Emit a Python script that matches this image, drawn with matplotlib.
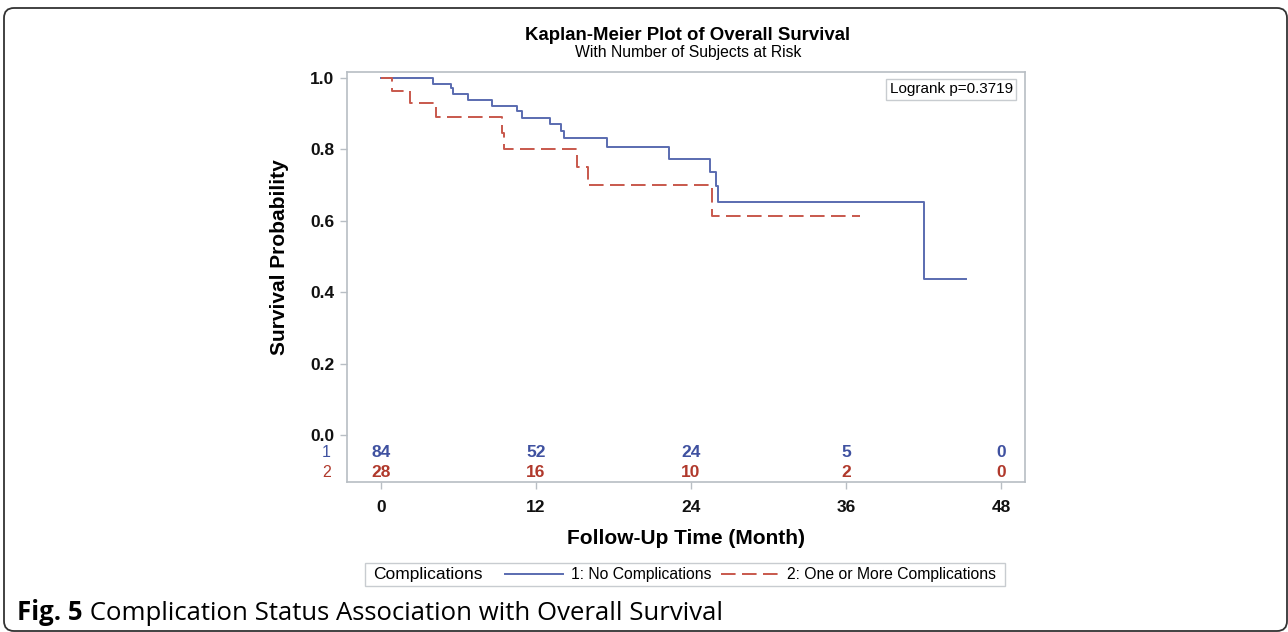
#!/usr/bin/env python3
"""
Kaplan-Meier overall survival plot by complication status, with number at risk.
"""

import matplotlib
matplotlib.use('Agg')
import matplotlib.pyplot as plt
from matplotlib.patches import FancyBboxPatch, Rectangle
from matplotlib.transforms import IdentityTransform

# --- data ---
grp1_times = [0, 4.05, 5.45, 5.6, 6.76, 8.57, 10.56, 10.9, 13.1, 13.9, 14.16,
              17.47, 22.3, 25.5, 25.9, 26.1, 42.0, 45.3]
grp1_surv = [1.0, 0.983, 0.971, 0.955, 0.938, 0.922, 0.907, 0.889, 0.871,
             0.852, 0.833, 0.807, 0.774, 0.737, 0.697, 0.654, 0.438, 0.438]

grp2_times = [0, 0.83, 2.25, 4.23, 9.4, 9.55, 15.2, 16.05, 25.6, 37.1]
grp2_surv = [1.0, 0.964, 0.929, 0.890, 0.845, 0.800, 0.750, 0.700, 0.614,
             0.614]

risk_times = [0, 12, 24, 36, 48]
grp1_risk = [84, 52, 24, 5, 0]
grp2_risk = [28, 16, 10, 2, 0]

group_labels = ['1: No Complications', '2: One or More Complications']
x_ticks = [0, 12, 24, 36, 48]
y_ticks = [0.0, 0.2, 0.4, 0.6, 0.8, 1.0]
logrank_text = 'Logrank p=0.3719'

# --- style ---
plt.rcParams['font.family'] = ['Liberation Sans', 'DejaVu Sans']
BLUE_LINE = '#5a6bb0'
RED_LINE = '#c8584c'
BLUE_TXT = '#3f51a0'
RED_TXT = '#b0392c'
FRAME = '#b8bec4'

W, H = 1288, 632
fig = plt.figure(figsize=(W / 100, H / 100), dpi=100)

# outer rounded frame of the figure panel
fig.patches.append(FancyBboxPatch((4, H - 631), 1283, 623,
                                  boxstyle='round,pad=0,rounding_size=10',
                                  transform=IdentityTransform(),
                                  fill=False, ec='#333333', lw=1.3))

left, right, top, bottom = 347, 1025, 72, 482
ax = fig.add_axes([left / W, 1 - bottom / H, (right - left) / W,
                   (bottom - top) / H])

line1, = ax.step(grp1_times, grp1_surv, where='post', color=BLUE_LINE,
                 lw=1.4, label=group_labels[0])
line2, = ax.step(grp2_times, grp2_surv, where='post', color=RED_LINE,
                 lw=1.4, linestyle=(0, (7.5, 3.3)), label=group_labels[1])

ax.set_xlim(-2.63, 49.85)
ax.set_ylim(-0.1317, 1.0168)
ax.set_xticks(x_ticks)
ax.set_yticks(y_ticks)
ax.set_yticklabels(['{:.1f}'.format(v) for v in y_ticks])

for sp in ax.spines.values():
    sp.set_color(FRAME)
    sp.set_linewidth(1.2)
ax.tick_params(direction='out', length=5, width=1, color=FRAME,
               labelsize=12.5, labelcolor='#111111')
ax.tick_params(axis='x', pad=8)
ax.tick_params(axis='y', pad=4)
for lab in ax.get_xticklabels() + ax.get_yticklabels():
    lab.set_fontweight('bold')

# number at risk rows, inside the plot area
for row_y, counts, col, name in [(-0.050, grp1_risk, BLUE_TXT, '1'),
                                 (-0.104, grp2_risk, RED_TXT, '2')]:
    for t, n in zip(risk_times, counts):
        ax.text(t, row_y, str(n), ha='center', va='center', color=col,
                fontsize=12.5, fontweight='bold')
    ax.text(-0.03, row_y, name, transform=ax.get_yaxis_transform(),
            ha='center', va='center', color=col, fontsize=11.5,
            clip_on=False)

ax.set_ylabel('Survival Probability', fontsize=15, fontweight='bold')
ax.yaxis.set_label_coords(-0.086, 0.549)
ax.set_xlabel('Follow-Up Time (Month)', fontsize=15, fontweight='bold')
ax.xaxis.set_label_coords(0.5, -0.115)

ax.text(0.982, 0.975, logrank_text, transform=ax.transAxes, ha='right',
        va='top', fontsize=11,
        bbox=dict(boxstyle='square,pad=0.22', fc='white', ec='#c8ccd0',
                  lw=1))

# titles
fig.text(688 / W, 1 - 35 / H, 'Kaplan-Meier Plot of Overall Survival',
         ha='center', va='center', fontsize=13.4, fontweight='bold')
fig.text(688 / W, 1 - 53 / H, 'With Number of Subjects at Risk',
         ha='center', va='center', fontsize=11.3)

# legend: box + group title + two entries
fig.patches.append(Rectangle((365 / W, 1 - 586 / H), 640 / W, 23 / H,
                             transform=fig.transFigure, fill=False,
                             ec='#c8ccd0', lw=1))
fig.text(373 / W, 1 - 575 / H, 'Complications', ha='left', va='center',
         fontsize=12.5)
fig.legend(handles=[line1, line2], labels=group_labels, ncol=2,
           loc='center left', bbox_to_anchor=(505 / W, 1 - 575 / H),
           frameon=False, fontsize=11.3, handlelength=3.7,
           handletextpad=0.5, columnspacing=0.6, borderpad=0,
           borderaxespad=0)

# caption
cap = fig.text(17 / W, 1 - 613 / H, 'Fig. 5', ha='left', va='center',
               fontsize=18.5, fontweight='bold', family=['Open Sans'])
ax.annotate(' Complication Status Association with Overall Survival',
            xy=(1, 0.5), xycoords=cap, ha='left', va='center',
            fontsize=18.5, family=['Open Sans'], annotation_clip=False)

fig.savefig('out.png', dpi=100)
